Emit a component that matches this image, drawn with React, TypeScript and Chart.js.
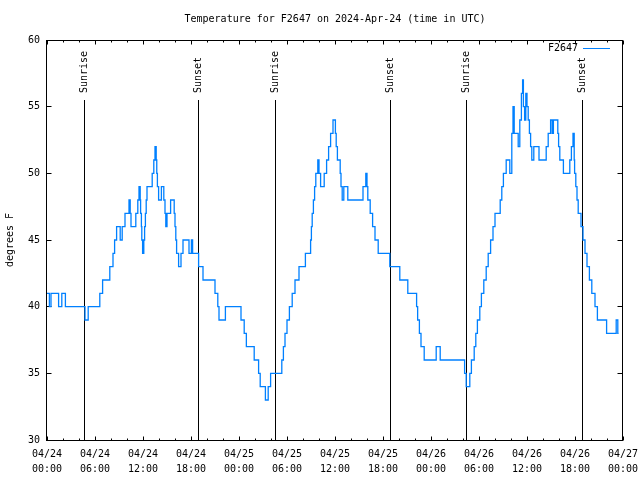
import React, { useEffect, useRef } from "react";
import { Chart, registerables } from "chart.js";

Chart.register(...registerables);

const TITLE = "Temperature for F2647 on 2024-Apr-24 (time in UTC)";
const Y_LABEL = "degrees F";
const SERIES_NAME = "F2647";
const LINE_COLOR = "#0080ff";
const FONT = '"DejaVu Sans Mono", "Liberation Mono", monospace';

// x tick labels every 6 hours from 04/24 00:00 (hours since start)
const xTickLabels: string[][] = [
  ["04/24", "00:00"], ["04/24", "06:00"], ["04/24", "12:00"], ["04/24", "18:00"],
  ["04/25", "00:00"], ["04/25", "06:00"], ["04/25", "12:00"], ["04/25", "18:00"],
  ["04/26", "00:00"], ["04/26", "06:00"], ["04/26", "12:00"], ["04/26", "18:00"],
  ["04/27", "00:00"],
];
const yTicks = [30, 35, 40, 45, 50, 55, 60];

// sunrise / sunset markers (hours since 04/24 00:00 UTC)
const sunTimes = [4.69, 18.94, 28.56, 42.94, 52.44, 66.94];
const sunLabels = ["Sunrise", "Sunset", "Sunrise", "Sunset", "Sunrise", "Sunset"];

// temperature change points: hours since 04/24 00:00 UTC, and degrees F
const hours = [
  0, 0.3, 0.5, 1.45, 1.85, 2.3, 4.75, 5.15, 6.6, 6.95,
  7.85, 8.25, 8.45, 8.7, 9.15, 9.4, 9.75, 10.25, 10.4, 10.5,
  11.1, 11.35, 11.5, 11.65, 11.7, 11.8, 11.85, 11.95, 12.1, 12.2,
  12.3, 12.4, 12.5, 13.15, 13.35, 13.5, 13.65, 13.72, 13.8, 13.95,
  14.3, 14.6, 14.75, 14.85, 15.0, 15.45, 15.9, 16.0, 16.1, 16.2,
  16.45, 16.75, 17.0, 17.75, 18.05, 18.2, 18.95, 19.5, 21.0, 21.35,
  21.5, 22.3, 24.25, 24.65, 24.92, 25.9, 26.45, 26.65, 27.3, 27.65,
  27.95, 29.35, 29.55, 29.75, 30.0, 30.3, 30.65, 31.0, 31.5, 32.3,
  32.95, 33.05, 33.15, 33.3, 33.45, 33.6, 33.85, 34.0, 34.2, 34.65,
  34.95, 35.2, 35.45, 35.75, 36.05, 36.15, 36.3, 36.65, 36.75, 36.9,
  37.1, 37.6, 39.5, 39.85, 40.0, 40.1, 40.4, 40.7, 41.0, 41.4,
  42.85, 44.1, 45.1, 46.2, 46.33, 46.55, 46.75, 47.15, 48.65, 49.15,
  52.2, 52.4, 52.85, 53.05, 53.4, 53.6, 53.8, 54.1, 54.3, 54.6,
  54.9, 55.15, 55.45, 55.75, 56.0, 56.65, 56.85, 57.05, 57.4, 57.85,
  58.1, 58.25, 58.4, 58.9, 59.1, 59.3, 59.45, 59.55, 59.7, 59.85,
  60.0, 60.15, 60.3, 60.45, 60.6, 60.85, 61.5, 62.4, 62.65, 62.95,
  63.15, 63.3, 63.85, 63.95, 64.1, 64.55, 65.35, 65.55, 65.75, 65.9,
  65.95, 66.1, 66.25, 66.4, 66.75, 67.0, 67.25, 67.5, 67.8, 68.1,
  68.5, 68.8, 69.95, 71.15, 71.35, 71.45,
];
const temps = [
  41, 40, 41, 40, 41, 40, 39, 40, 41, 42,
  43, 44, 45, 46, 45, 46, 47, 48, 47, 46,
  47, 48, 49, 48, 47, 46, 45, 44, 45, 46,
  47, 48, 49, 50, 51, 52, 51, 50, 49, 48,
  49, 48, 47, 46, 47, 48, 47, 46, 45, 44,
  43, 44, 45, 44, 45, 44, 43, 42, 41, 40,
  39, 40, 39, 38, 37, 36, 35, 34, 33, 34,
  35, 36, 37, 38, 39, 40, 41, 42, 43, 44,
  45, 46, 47, 48, 49, 50, 51, 50, 49, 50,
  51, 52, 53, 54, 53, 52, 51, 50, 49, 48,
  49, 48, 49, 50, 49, 48, 47, 46, 45, 44,
  43, 42, 41, 40, 39, 38, 37, 36, 37, 36,
  35, 34, 35, 36, 37, 38, 39, 40, 41, 42,
  43, 44, 45, 46, 47, 48, 49, 50, 51, 50,
  53, 55, 53, 52, 54, 56, 57, 55, 54, 56,
  55, 54, 53, 52, 51, 52, 51, 52, 53, 54,
  53, 54, 53, 52, 51, 50, 51, 52, 53, 51,
  50, 49, 48, 47, 46, 45, 44, 43, 42, 41,
  40, 39, 38, 39, 38, 38,
];

const gnuplotPlugin = {
  id: "gnuplotFrame",
  beforeDatasetsDraw(chart: any) {
    const { ctx, chartArea: a, scales } = chart;
    const xs = scales.x;
    const ys = scales.y;
    const L = Math.floor(a.left) - 0.5;
    const R = Math.floor(a.right) - 0.5;
    const T = Math.floor(a.top) + 0.5;
    const B = Math.floor(a.bottom) + 0.5;
    ctx.save();
    ctx.strokeStyle = "#000";
    ctx.lineWidth = 1;
    ctx.beginPath();
    // x ticks (major every 6 h, minor every 2 h), mirrored on top
    for (let h = 0; h <= 72; h += 2) {
      const px = Math.floor(xs.getPixelForValue(h)) + 0.5;
      const len = h % 6 === 0 ? 4 : 2;
      ctx.moveTo(px, B);
      ctx.lineTo(px, B - len);
      ctx.moveTo(px, T);
      ctx.lineTo(px, T + len);
    }
    // y ticks, mirrored on right
    for (const v of yTicks) {
      const py = Math.floor(ys.getPixelForValue(v)) + 0.5;
      ctx.moveTo(L, py);
      ctx.lineTo(L + 5, py);
      ctx.moveTo(R, py);
      ctx.lineTo(R - 5, py);
    }
    // sunrise / sunset lines
    sunTimes.forEach((t) => {
      const px = Math.floor(xs.getPixelForValue(t)) + 0.5;
      ctx.moveTo(px, 100);
      ctx.lineTo(px, B);
    });
    ctx.stroke();
    // border
    ctx.strokeRect(L, T, R - L, B - T);
    // sunrise / sunset labels
    ctx.fillStyle = "#000";
    ctx.font = `10px ${FONT}`;
    ctx.textAlign = "left";
    ctx.textBaseline = "middle";
    sunTimes.forEach((t, i) => {
      const px = Math.floor(xs.getPixelForValue(t)) + 0.5;
      ctx.save();
      ctx.translate(px, 93);
      ctx.rotate(-Math.PI / 2);
      ctx.fillText(sunLabels[i], 0, 0);
      ctx.restore();
    });
    ctx.restore();
  },
  afterDraw(chart: any) {
    const { ctx, chartArea: a } = chart;
    ctx.save();
    ctx.fillStyle = "#000";
    ctx.font = `10px ${FONT}`;
    ctx.textBaseline = "middle";
    // title
    ctx.textAlign = "center";
    ctx.fillText(TITLE, (a.left + a.right) / 2, 19);
    // y axis label
    ctx.save();
    ctx.translate(10, 240);
    ctx.rotate(-Math.PI / 2);
    ctx.fillText(Y_LABEL, 0, 0);
    ctx.restore();
    // legend
    ctx.textAlign = "right";
    ctx.fillText(SERIES_NAME, 578, 48);
    ctx.strokeStyle = LINE_COLOR;
    ctx.lineWidth = 1;
    ctx.beginPath();
    ctx.moveTo(583, 48.5);
    ctx.lineTo(610, 48.5);
    ctx.stroke();
    ctx.restore();
  },
};

export default function App() {
  const canvasRef = useRef<HTMLCanvasElement | null>(null);

  useEffect(() => {
    const canvas = canvasRef.current;
    if (!canvas) return;
    const chart = new Chart(canvas, {
      type: "line",
      data: {
        datasets: [
          {
            label: SERIES_NAME,
            data: hours.map((h, i) => ({ x: h, y: temps[i] })),
            borderColor: LINE_COLOR,
            backgroundColor: LINE_COLOR,
            borderWidth: 1.3,
            pointRadius: 0,
            stepped: true,
            fill: false,
          },
        ],
      },
      options: {
        animation: false,
        responsive: false,
        devicePixelRatio: 1,
        layout: { padding: { top: 40, right: 17, bottom: 0, left: 0 } },
        plugins: {
          legend: { display: false },
          title: { display: false },
          tooltip: { enabled: false },
        },
        scales: {
          x: {
            type: "linear",
            min: 0,
            max: 72,
            afterFit: (s: any) => {
              s.height = 40;
              s.paddingLeft = 0;
              s.paddingRight = 0;
            },
            grid: { display: false, drawTicks: false },
            border: { display: false },
            ticks: {
              stepSize: 6,
              autoSkip: false,
              maxRotation: 0,
              minRotation: 0,
              padding: 7,
              color: "#000",
              font: { family: FONT, size: 10, lineHeight: 1.5 },
              callback: (v: any) => xTickLabels[Math.round(Number(v) / 6)],
            },
          },
          y: {
            type: "linear",
            min: 30,
            max: 60,
            afterFit: (s: any) => {
              s.width = 47;
              s.paddingTop = 0;
              s.paddingBottom = 0;
            },
            grid: { display: false, drawTicks: false },
            border: { display: false },
            ticks: {
              stepSize: 5,
              padding: 7,
              color: "#000",
              font: { family: FONT, size: 10 },
              callback: (v: any) => String(v),
            },
          },
        },
      },
      plugins: [gnuplotPlugin],
    } as any);
    return () => chart.destroy();
  }, []);

  return (
    <div style={{ position: "absolute", left: 0, top: 0, width: 640, height: 480, background: "#fff" }}>
      <canvas ref={canvasRef} width={640} height={480} style={{ display: "block" }} />
    </div>
  );
}
